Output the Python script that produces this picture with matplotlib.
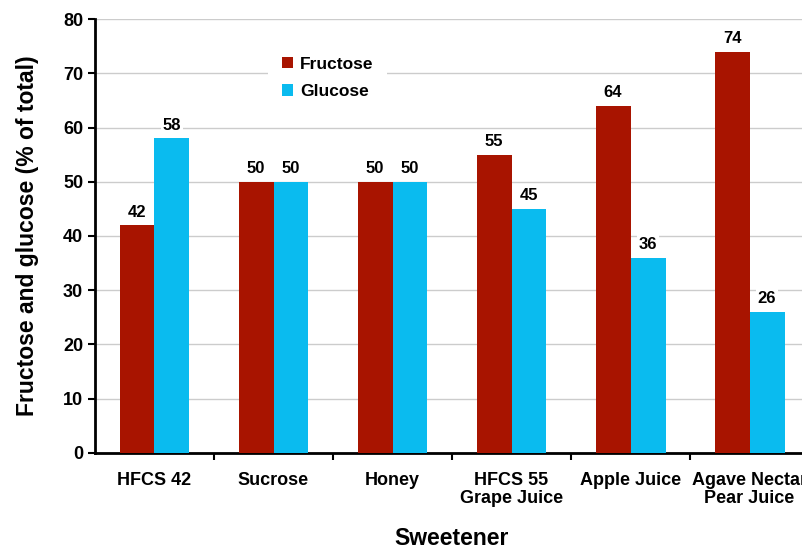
import matplotlib
matplotlib.use('Agg')
import matplotlib.pyplot as plt
import numpy as np

sweeteners = ['HFCS 42', 'Sucrose', 'Honey', 'HFCS 55\nGrape Juice',
              'Apple Juice', 'Agave Nectar\nPear Juice']
fructose = [42, 50, 50, 55, 64, 74]
glucose = [58, 50, 50, 45, 36, 26]

RED = '#A81400'
BLUE = '#0ABBEF'

plt.rcParams['font.family'] = ['Liberation Sans', 'DejaVu Sans']
plt.rcParams['font.weight'] = 'bold'

fig = plt.figure(figsize=(8.03, 5.48), dpi=100)
ax = fig.add_axes([0.1183, 0.1734, 0.8892, 0.7919])

x = np.arange(len(sweeteners))
w = 0.294
b1 = ax.bar(x - w / 2, fructose, w, color=RED, label='Fructose', zorder=3)
b2 = ax.bar(x + w / 2, glucose, w, color=BLUE, label='Glucose', zorder=3)

for bars in (b1, b2):
    for rect in bars:
        h = rect.get_height()
        ax.annotate(f'{h:.0f}', (rect.get_x() + rect.get_width() / 2, h),
                    xytext=(0, 4), textcoords='offset points',
                    ha='center', va='bottom', fontsize=12, fontweight='bold',
                    bbox=dict(facecolor='white', edgecolor='none', pad=1.5),
                    zorder=4)

ax.set_xlim(-0.5, len(sweeteners) - 0.5)
ax.set_ylim(0, 80)
ax.set_yticks(range(0, 81, 10))
ax.yaxis.grid(True, color='#cccccc', linewidth=1, zorder=0)
ax.set_axisbelow(True)

ax.set_xticks(x)
ax.set_xticklabels(sweeteners, fontsize=13, fontweight='bold',
                   linespacing=1.05)
ax.tick_params(axis='x', length=0, pad=14)
ax.set_xticks(np.arange(0.5, len(sweeteners) - 0.5), minor=True)
ax.tick_params(axis='x', which='minor', length=5, width=1.5, direction='out')
ax.tick_params(axis='y', labelsize=13, length=5, width=1.5, direction='out')
for lab in ax.get_yticklabels():
    lab.set_fontweight('bold')

for side in ('top', 'right'):
    ax.spines[side].set_visible(False)
for side in ('left', 'bottom'):
    ax.spines[side].set_linewidth(2)

ax.set_xlabel('Sweetener', fontsize=16.5, fontweight='bold', labelpad=14)
ax.set_ylabel('Fructose and glucose (% of total)', fontsize=16.5,
              fontweight='bold', labelpad=17)

leg = ax.legend(loc='upper left', bbox_to_anchor=(0.23, 0.965), frameon=True,
                fontsize=12.5, handlelength=0.65, handleheight=0.65,
                handletextpad=0.4, labelspacing=0.7, borderpad=0.8)
leg.get_frame().set_edgecolor('none')
leg.get_frame().set_facecolor('white')
leg.get_frame().set_alpha(1)
for t in leg.get_texts():
    t.set_fontweight('bold')

fig.savefig('out.png', dpi=100)
